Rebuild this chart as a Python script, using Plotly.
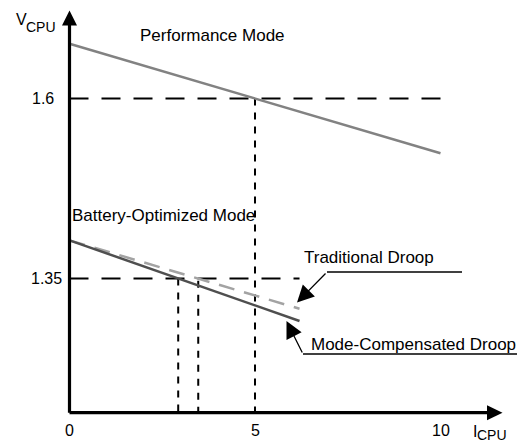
import plotly.graph_objects as go

# ---------------- data ----------------
perf_i = [0, 10]
perf_v = [1.676, 1.524]

batt_i = [0, 6.2]
mode_comp_v = [1.403, 1.291]
trad_v = [1.403, 1.308]

ref_levels = [1.6, 1.35]
ref_level_end_i = [10, 6.2]
cross_i = [5, 2.93, 3.47]
cross_top_v = [1.6, 1.35, 1.347]

x_ticks = [0, 5, 10]
x_tick_labels = ["0", "5", "10"]
y_ticks = [1.6, 1.35]
y_tick_labels = ["1.6", "1.35"]

# ---------------- geometry (pixel <-> data) ----------------
W, H = 521, 444
X0_PX, X_SCALE = 69.5, 37.1       # px of I=0, px per unit
Y_REF_PX, Y_REF_V, Y_SCALE = 98.5, 1.6, 720.0

def dx(p):
    return (p - X0_PX) / X_SCALE

def dy(p):
    return Y_REF_V - (p - Y_REF_PX) / Y_SCALE

axis_v0 = dy(412.7)

FONT = "Liberation Sans, Arial, sans-serif"

fig = go.Figure()

# reference dashed horizontals
for v, e in zip(ref_levels, ref_level_end_i):
    fig.add_trace(go.Scatter(x=[0, e], y=[v, v], mode="lines",
                             line=dict(color="black", width=2, dash="19px,13px"),
                             hoverinfo="skip"))
# dotted verticals
for i, tv in zip(cross_i, cross_top_v):
    fig.add_trace(go.Scatter(x=[i, i], y=[tv, axis_v0], mode="lines",
                             line=dict(color="black", width=2, dash="7px,7px"),
                             hoverinfo="skip"))

# curves
fig.add_trace(go.Scatter(x=perf_i, y=perf_v, mode="lines",
                         line=dict(color="#828282", width=2.5), hoverinfo="skip"))
fig.add_trace(go.Scatter(x=batt_i, y=trad_v, mode="lines",
                         line=dict(color="#a3a3a3", width=2.5, dash="16px,10px"),
                         hoverinfo="skip"))
fig.add_trace(go.Scatter(x=batt_i, y=mode_comp_v, mode="lines",
                         line=dict(color="#4f4f4f", width=2.5), hoverinfo="skip"))

shapes = []
# axes
shapes.append(dict(type="line", x0=0, x1=0, y0=axis_v0, y1=dy(24),
                   line=dict(color="black", width=3.2)))
shapes.append(dict(type="line", x0=0, x1=dx(488), y0=axis_v0, y1=axis_v0,
                   line=dict(color="black", width=3.2)))
# arrow heads of axes
shapes.append(dict(type="path",
                   path=f"M {dx(X0_PX)},{dy(10.5)} L {dx(X0_PX-7.5)},{dy(25.5)} L {dx(X0_PX+7.5)},{dy(25.5)} Z",
                   fillcolor="black", line=dict(color="black", width=0)))
shapes.append(dict(type="path",
                   path=f"M {dx(502.5)},{axis_v0} L {dx(487)},{dy(405.2)} L {dx(487)},{dy(420.2)} Z",
                   fillcolor="black", line=dict(color="black", width=0)))
# annotation underlines
shapes.append(dict(type="line", x0=dx(327), x1=dx(462), y0=dy(272), y1=dy(272),
                   line=dict(color="black", width=1.3)))
shapes.append(dict(type="line", x0=dx(303), x1=dx(517), y0=dy(354), y1=dy(354),
                   line=dict(color="black", width=1.3)))

annotations = []
def txt(x, y, s, size=17, xanchor="center"):
    annotations.append(dict(x=x, y=y, text=s, showarrow=False, xanchor=xanchor,
                            yanchor="middle", borderpad=0,
                            font=dict(family=FONT, size=size, color="black")))

# tick labels
for t, lab in zip(x_ticks, x_tick_labels):
    txt(t, dy(430.5), lab, size=16)
txt(dx(43), y_ticks[0], y_tick_labels[0], size=16)
txt(dx(46), y_ticks[1], y_tick_labels[1], size=16)

# axis titles (main letter + subscript)
txt(dx(14.5), dy(19.5), "V", size=16, xanchor="left")
txt(dx(24.5), dy(26.5), "CPU", size=14, xanchor="left")
txt(dx(471.5), dy(431), "I", size=16, xanchor="left")
txt(dx(475.5), dy(435.3), "CPU", size=14, xanchor="left")

# series labels
txt(dx(212), dy(35), "Performance Mode")
txt(dx(163), dy(215), "Battery-Optimized Mode")
txt(dx(368.5), dy(257), "Traditional Droop")
txt(dx(413.5), dy(344), "Mode-Compensated Droop")

# pointer arrows
for tip, tail in [((297, 302.5), (327, 272)), ((286.5, 321), (303, 354))]:
    annotations.append(dict(x=dx(tip[0]), y=dy(tip[1]), ax=dx(tail[0]), ay=dy(tail[1]),
                            axref="x", ayref="y", xref="x", yref="y", text="",
                            showarrow=True, arrowhead=2, arrowsize=2.6, arrowwidth=1.3,
                            arrowcolor="black"))

fig.update_layout(
    width=W, height=H,
    margin=dict(l=0, r=0, t=0, b=0),
    paper_bgcolor="white", plot_bgcolor="white",
    showlegend=False,
    xaxis=dict(visible=False, range=[dx(0), dx(W)], fixedrange=True),
    yaxis=dict(visible=False, range=[dy(H), dy(0)], fixedrange=True),
    shapes=shapes, annotations=annotations,
)

fig.write_html("out.html", config={"displayModeBar": False},
               post_script="document.body.style.margin='0';document.body.style.padding='0';document.body.style.overflow='hidden';")
